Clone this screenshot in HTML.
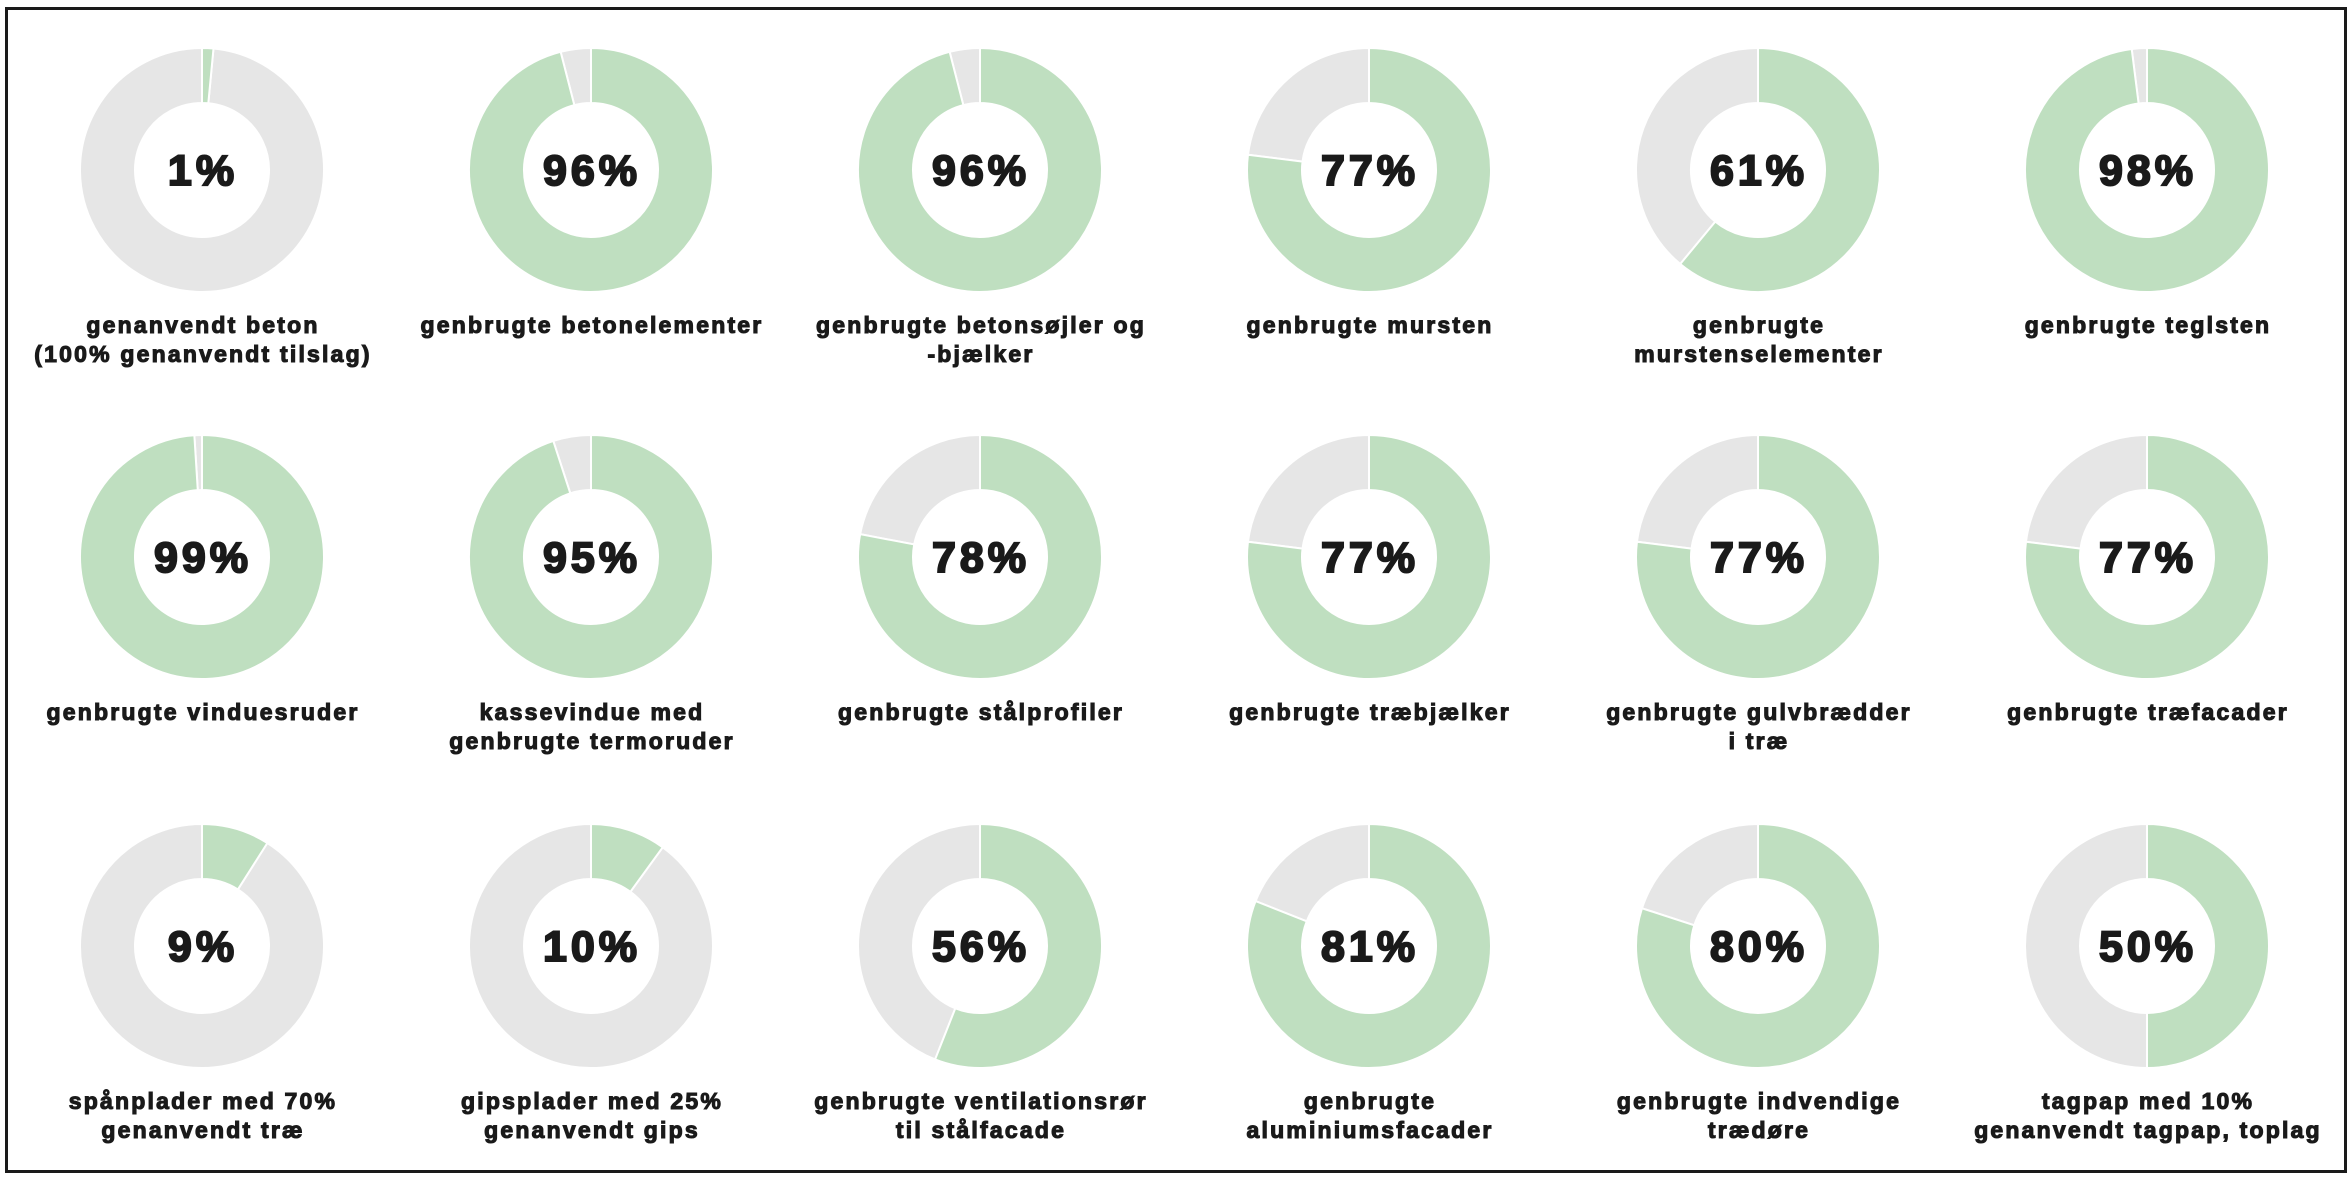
<!DOCTYPE html>
<html><head><meta charset="utf-8"><style>
html,body{margin:0;padding:0;background:#fff;}
svg{display:block;}
text{font-family:"Liberation Sans",Arial,sans-serif;font-weight:bold;fill:#1a1a1a;}
</style></head><body>
<svg id="chart" width="2352" height="1180" viewBox="0 0 2352 1180" xmlns="http://www.w3.org/2000/svg">
<rect x="6.5" y="8.5" width="2339" height="1163" fill="#fff" stroke="#1a1a1a" stroke-width="3"/>
<g id="g"></g>
</svg>
<script>
const labels = [
 ["genanvendt beton","(100% genanvendt tilslag)"],
 ["genbrugte betonelementer"],
 ["genbrugte betonsøjler og","-bjælker"],
 ["genbrugte mursten"],
 ["genbrugte","murstenselementer"],
 ["genbrugte teglsten"],
 ["genbrugte vinduesruder"],
 ["kassevindue med","genbrugte termoruder"],
 ["genbrugte stålprofiler"],
 ["genbrugte træbjælker"],
 ["genbrugte gulvbrædder","i træ"],
 ["genbrugte træfacader"],
 ["spånplader med 70%","genanvendt træ"],
 ["gipsplader med 25%","genanvendt gips"],
 ["genbrugte ventilationsrør","til stålfacade"],
 ["genbrugte","aluminiumsfacader"],
 ["genbrugte indvendige","trædøre"],
 ["tagpap med 10%","genanvendt tagpap, toplag"]
];
const values = [1.5,96,96,77,61,98,99,95,78,77,77,77,9,10,56,81,80,50];
const printed = ["1%","96%","96%","77%","61%","98%","99%","95%","78%","77%","77%","77%","9%","10%","56%","81%","80%","50%"];
const NS="http://www.w3.org/2000/svg";
const g=document.getElementById('g');
const colX=c=>202+c*389;
const rowY=r=>[170,557,946][r];
const R=122, r0=67;
function pt(cx,cy,rad,p){const a=p/100*2*Math.PI;return [cx+rad*Math.sin(a),cy-rad*Math.cos(a)];}
function arc(cx,cy,p1,p2){
  const [x1,y1]=pt(cx,cy,R,p1),[x2,y2]=pt(cx,cy,R,p2),[x3,y3]=pt(cx,cy,r0,p2),[x4,y4]=pt(cx,cy,r0,p1);
  const lg=(p2-p1)>50?1:0;
  return `M${x1},${y1}A${R},${R} 0 ${lg} 1 ${x2},${y2}L${x3},${y3}A${r0},${r0} 0 ${lg} 0 ${x4},${y4}Z`;
}
values.forEach((v,i)=>{
  const cx=colX(i%6), cy=rowY(Math.floor(i/6));
  const grp=document.createElementNS(NS,'g');
  
  
  const gs=document.createElementNS(NS,'path');
  gs.setAttribute('d',arc(cx,cy,0,v));
  gs.setAttribute('fill','#bfdfc0');gs.setAttribute('stroke','#fff');gs.setAttribute('stroke-width','2');
  
  
  const rs=document.createElementNS(NS,'path');
  rs.setAttribute('d',arc(cx,cy,v,100));
  rs.setAttribute('fill','#e6e6e6');rs.setAttribute('stroke','#fff');rs.setAttribute('stroke-width','2');
  
  
  grp.appendChild(rs);grp.appendChild(gs);
  const t=document.createElementNS(NS,'text');
  t.setAttribute('x',cx+1);t.setAttribute('y',cy+15);t.setAttribute('text-anchor','middle');
  t.setAttribute('font-size','43');t.setAttribute('letter-spacing','4');
  t.setAttribute('stroke','#1a1a1a');t.setAttribute('stroke-width','2');
  t.textContent=printed[i];
  
  
  grp.appendChild(t);
  labels[i].forEach((ln,k)=>{
    const l=document.createElementNS(NS,'text');
    l.setAttribute('x',cx+1);l.setAttribute('y',cy+163+k*29);l.setAttribute('text-anchor','middle');
    l.setAttribute('font-size','23');l.setAttribute('letter-spacing','2.2');
    l.setAttribute('stroke','#1a1a1a');l.setAttribute('stroke-width','1.1');
    l.textContent=ln;
    
    
    grp.appendChild(l);
  });
  g.appendChild(grp);
});
</script>
</body></html>
